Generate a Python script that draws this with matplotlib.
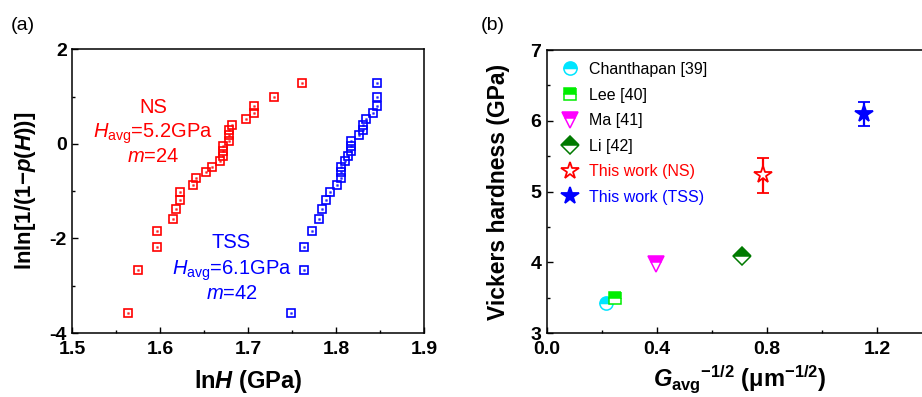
import matplotlib
matplotlib.use('agg')
import matplotlib.pyplot as plt
from matplotlib.lines import Line2D

plt.rcParams['font.family'] = ['Liberation Sans', 'DejaVu Sans']
plt.rcParams['mathtext.fontset'] = 'custom'
plt.rcParams['mathtext.rm'] = 'Liberation Sans'
plt.rcParams['mathtext.it'] = 'Liberation Sans:italic'
plt.rcParams['mathtext.bf'] = 'Liberation Sans:bold'
plt.rcParams['mathtext.bfit'] = 'Liberation Sans:bold:italic'
plt.rcParams['axes.unicode_minus'] = False

# (a) Weibull plot, lnln[1/(1-p)] levels shared by both samples
weibull_y = [-3.58, -2.67, -2.19, -1.85, -1.59, -1.37, -1.18, -1.02, -0.87, -0.73,
             -0.60, -0.48, -0.37, -0.26, -0.15, -0.04, 0.07, 0.18, 0.29, 0.40,
             0.52, 0.66, 0.81, 0.99, 1.28]
ns_lnH = [1.563, 1.574, 1.596, 1.596, 1.614, 1.618, 1.622, 1.622, 1.637, 1.640,
          1.652, 1.659, 1.668, 1.671, 1.671, 1.671, 1.678, 1.678, 1.678, 1.682,
          1.698, 1.706, 1.706, 1.729, 1.761]
tss_lnH = [1.749, 1.764, 1.764, 1.773, 1.781, 1.784, 1.789, 1.793, 1.801, 1.805,
           1.805, 1.805, 1.810, 1.813, 1.817, 1.817, 1.817, 1.826, 1.830, 1.830,
           1.834, 1.842, 1.846, 1.846, 1.846]

# (b) hardness vs grain size
refs = ['Chanthapan [39]', 'Lee [40]', 'Ma [41]', 'Li [42]']
ref_x = [0.213, 0.248, 0.398, 0.710]
ref_y = [3.43, 3.49, 3.97, 4.09]
ref_marker = ['o', 's', 'v', 'D']
ref_color = ['#00e5ff', '#00ee00', '#ff00ff', '#007a00']
ref_ms = [9.5, 9, 11.5, 9.5]

work = ['This work (NS)', 'This work (TSS)']
work_x = [0.787, 1.152]
work_y = [5.23, 6.10]
work_err = [0.25, 0.17]
work_color = ['red', 'blue']
work_fill = ['white', 'blue']

fig = plt.figure(figsize=(9.22, 3.97), dpi=100)
ax1 = fig.add_axes([0.0786, 0.1612, 0.3813, 0.7148])
ax2 = fig.add_axes([0.5933, 0.1612, 0.4175, 0.7128])

# --- panel (a)
ax1.plot(ns_lnH, weibull_y, 's', ls='none', ms=6, mfc='none', mec='red', mew=1.2)
ax1.plot(ns_lnH, weibull_y, 's', ls='none', ms=1, color='red', alpha=0.6)
ax1.plot(tss_lnH, weibull_y, 's', ls='none', ms=6, mfc='none', mec='blue', mew=1.2)
ax1.plot(tss_lnH, weibull_y, 's', ls='none', ms=1, color='blue', alpha=0.6)
ax1.set_xlim(1.5, 1.9)
ax1.set_ylim(-4, 2)
ax1.set_xticks([1.5, 1.6, 1.7, 1.8, 1.9])
ax1.set_xticks([1.55, 1.65, 1.75, 1.85], minor=True)
ax1.set_yticks([-4, -2, 0, 2])
ax1.set_yticks([-3, -1, 1], minor=True)
ax1.set_xlabel(r'ln$\mathbfit{H}$ (GPa)', fontsize=17, fontweight='bold', labelpad=7)
ax1.set_ylabel(r'lnln[1/(1−$\mathbfit{p}$($\mathbfit{H}$))]', fontsize=16,
               fontweight='bold', labelpad=8)

ax1.text(1.592, 0.66, 'NS', color='red', fontsize=14.5, ha='center', va='baseline')
ax1.text(1.592, 0.13, r'$\it{H}_{\rm avg}$=5.2GPa', color='red', fontsize=14.5,
         ha='center', va='baseline')
ax1.text(1.592, -0.385, r'$\it{m}$=24', color='red', fontsize=14.5, ha='center',
         va='baseline')
ax1.text(1.681, -2.20, 'TSS', color='blue', fontsize=14.5, ha='center', va='baseline')
ax1.text(1.681, -2.77, r'$\it{H}_{\rm avg}$=6.1GPa', color='blue', fontsize=14.5,
         ha='center', va='baseline')
ax1.text(1.681, -3.28, r'$\it{m}$=42', color='blue', fontsize=14.5, ha='center',
         va='baseline')

# --- panel (b)
handles = []
for name, x, y, mk, c, ms in zip(refs, ref_x, ref_y, ref_marker, ref_color, ref_ms):
    h, = ax2.plot([x], [y], mk, ls='none', ms=ms, color=c, mec=c, mfc=c,
                  fillstyle='top', markerfacecoloralt='white', mew=1.1, label=name)
    handles.append(h)
for name, x, y, e, c, fc in zip(work, work_x, work_y, work_err, work_color, work_fill):
    ax2.errorbar([x], [y], yerr=[e], fmt='*', ms=13, color=c, mec=c, mfc=fc,
                 mew=1.3, ecolor=c, elinewidth=1.6, capsize=4, capthick=1.6)
    handles.append(Line2D([], [], marker='*', ls='none', ms=13, mec=c, mfc=fc,
                          mew=1.3, label=name))

ax2.set_xlim(0, 1.4)
ax2.set_ylim(3, 7)
ax2.set_xticks([0.0, 0.4, 0.8, 1.2])
ax2.set_xticks([0.2, 0.6, 1.0], minor=True)
ax2.set_xticklabels(['0.0', '0.4', '0.8', '1.2'])
ax2.set_yticks([3, 4, 5, 6, 7])
ax2.set_yticks([3.5, 4.5, 5.5, 6.5], minor=True)
ax2.set_xlabel(r'$\mathbfit{G}_{\mathbf{avg}}{}^{\mathbf{−1/2}}$ (μm$^{\mathbf{−1/2}}$)',
               fontsize=17, fontweight='bold', labelpad=4)
ax2.set_ylabel('Vickers hardness (GPa)', fontsize=16.5, fontweight='bold', labelpad=15)

leg = ax2.legend(handles=handles, loc='upper left', frameon=False, fontsize=11.5,
                 handlelength=1.2, handletextpad=0.6, labelspacing=0.66,
                 borderaxespad=0.3, bbox_to_anchor=(0.005, 0.997))
for t, c in zip(leg.get_texts(), ['black', 'black', 'black', 'black', 'red', 'blue']):
    t.set_color(c)

for ax in (ax1, ax2):
    for s in ax.spines.values():
        s.set_linewidth(1.1)
    ax.tick_params(which='both', direction='in', top=False, right=False,
                   labelsize=14, width=1.0)
    ax.tick_params(which='major', length=4.5, pad=4)
    ax.tick_params(axis='x', which='major', pad=6)
    ax.tick_params(which='minor', length=2.5)
    for lab in ax.get_xticklabels() + ax.get_yticklabels():
        lab.set_fontweight('bold')

fig.text(0.012, 0.925, '(a)', fontsize=14)
fig.text(0.521, 0.925, '(b)', fontsize=14)

fig.savefig('out.png', dpi=100)
